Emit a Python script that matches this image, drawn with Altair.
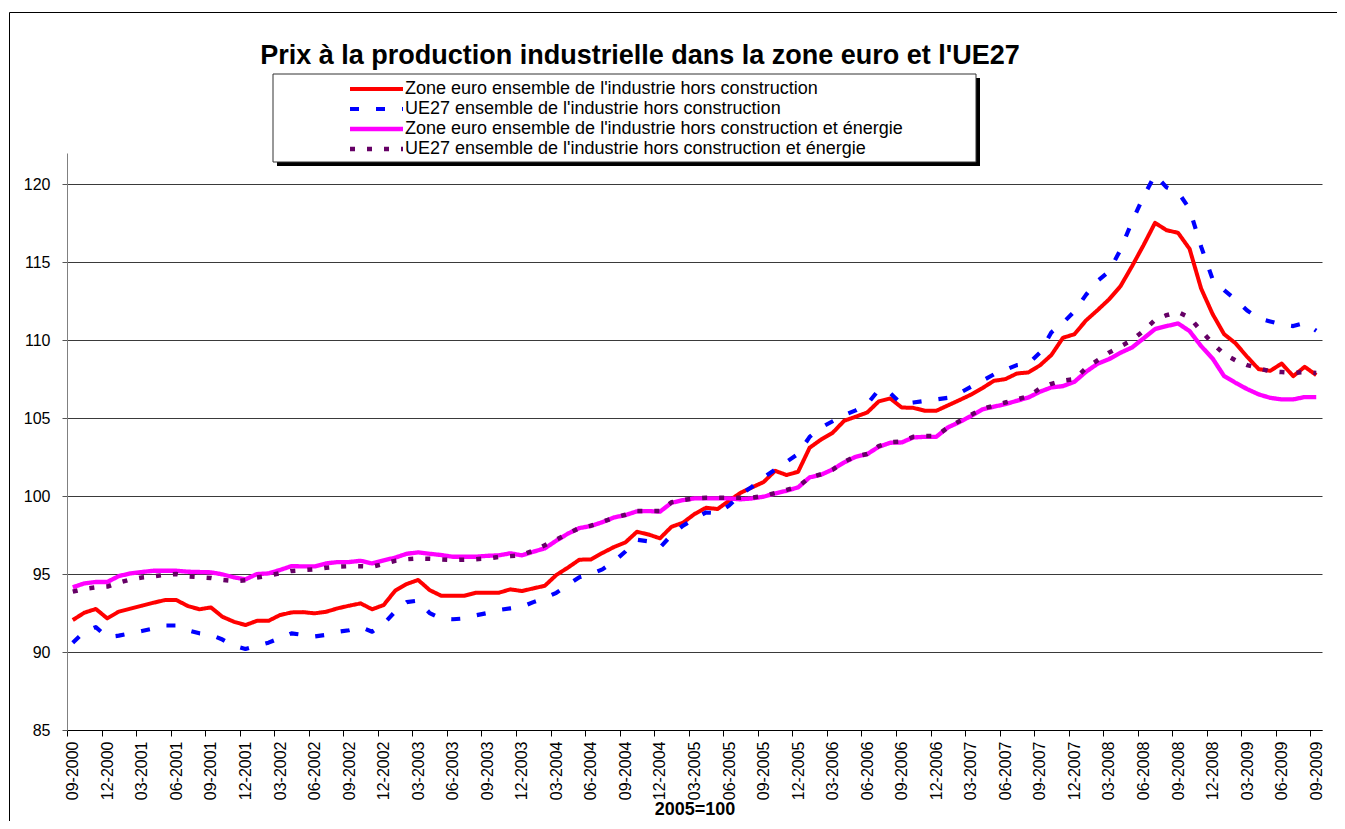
import altair as alt
import pandas as pd

FONT = "Liberation Sans, Arial, sans-serif"

# ---- categories (months 09-2000 ... 09-2009) ----
months = [p.strftime("%m-%Y") for p in pd.period_range("2000-09", "2009-09", freq="M")]

title_text = "Prix à la production industrielle dans la zone euro et l'UE27"
x_title = "2005=100"

series_names = [
    "Zone euro ensemble de l'industrie hors construction",
    "UE27 ensemble de l'industrie hors construction",
    "Zone euro ensemble de l'industrie hors construction et énergie",
    "UE27 ensemble de l'industrie hors construction et énergie",
]

zone_euro_total = [
    92.05, 92.52, 92.76, 92.16, 92.59, 92.78, 92.97, 93.16, 93.33, 93.33,
    92.95, 92.74, 92.86, 92.26, 91.94, 91.73, 92.00, 92.00, 92.37, 92.54,
    92.56, 92.48, 92.58, 92.80, 92.97, 93.12, 92.74, 93.01, 93.93, 94.36,
    94.62, 93.97, 93.61, 93.61, 93.61, 93.80, 93.80, 93.80, 94.02, 93.91,
    94.08, 94.25, 94.94, 95.41, 95.92, 95.94, 96.35, 96.73, 97.03, 97.71,
    97.54, 97.29, 98.03, 98.29, 98.85, 99.25, 99.17, 99.70, 100.21, 100.56,
    100.90, 101.62, 101.35, 101.56, 103.10, 103.63, 104.06, 104.83, 105.09, 105.36,
    106.07, 106.26, 105.68, 105.66, 105.47, 105.47, 105.81, 106.15, 106.50, 106.92,
    107.39, 107.50, 107.86, 107.93, 108.38, 109.05, 110.15, 110.38, 111.26, 111.92,
    112.61, 113.46, 114.74, 116.09, 117.52, 117.05, 116.88, 115.85, 113.31, 111.67,
    110.38, 109.79, 108.93, 108.14, 108.03, 108.50, 107.69, 108.29, 107.76,
]

ue27_total = [
    90.6, 91.3, 91.6, 90.95, 91.05, 91.2, 91.35, 91.5, 91.7, 91.7,
    91.4, 91.2, 91.1, 90.8, 90.4, 90.2, 90.4, 90.6, 90.9, 91.2,
    91.1, 91.0, 91.1, 91.3, 91.4, 91.6, 91.3, 91.8, 92.6, 93.2,
    93.3, 92.5, 92.15, 92.1, 92.15, 92.35, 92.5, 92.7, 92.8, 92.9,
    93.2, 93.45, 93.8, 94.3, 94.8, 95.0, 95.3, 95.8, 96.45, 97.2,
    97.1, 96.7, 97.5, 98.1, 98.55, 98.95, 98.9, 99.4, 100.1, 100.6,
    101.2, 101.7, 102.2, 102.7, 103.8, 104.4, 104.8, 105.2, 105.5, 105.9,
    106.8, 106.6, 105.9, 106.0, 106.1, 106.2, 106.3, 106.6, 107.0, 107.4,
    107.8, 108.1, 108.4, 108.5, 109.2, 110.5, 111.1, 111.85, 112.9, 113.8,
    114.4, 115.8, 117.6, 119.2, 120.6, 119.8, 119.5, 118.4, 116.0, 113.9,
    113.2, 112.6, 111.9, 111.4, 111.2, 111.0, 110.9, 111.1, 110.6,
]

zone_euro_hors_energie = [
    94.15, 94.40, 94.49, 94.49, 94.87, 95.04, 95.13, 95.21, 95.21, 95.21,
    95.15, 95.13, 95.11, 94.98, 94.79, 94.66, 95.00, 95.04, 95.26, 95.51,
    95.49, 95.49, 95.68, 95.77, 95.77, 95.85, 95.68, 95.88, 96.05, 96.30,
    96.39, 96.30, 96.22, 96.11, 96.11, 96.11, 96.17, 96.20, 96.33, 96.20,
    96.43, 96.65, 97.14, 97.59, 97.95, 98.08, 98.33, 98.63, 98.78, 99.02,
    99.04, 99.00, 99.57, 99.74, 99.85, 99.85, 99.85, 99.85, 99.79, 99.85,
    99.96, 100.17, 100.34, 100.56, 101.20, 101.37, 101.71, 102.16, 102.52, 102.69,
    103.16, 103.42, 103.44, 103.76, 103.80, 103.80, 104.40, 104.74, 105.13, 105.56,
    105.73, 105.90, 106.11, 106.32, 106.69, 106.97, 107.05, 107.33, 107.97, 108.48,
    108.78, 109.19, 109.53, 110.11, 110.71, 110.90, 111.07, 110.58, 109.62, 108.82,
    107.69, 107.26, 106.86, 106.52, 106.30, 106.20, 106.20, 106.35, 106.35,
]

ue27_hors_energie = [
    93.87, 94.05, 94.15, 94.20, 94.45, 94.65, 94.78, 94.85, 94.95, 95.00,
    94.85, 94.80, 94.75, 94.62, 94.55, 94.60, 94.78, 94.90, 95.05, 95.20,
    95.25, 95.30, 95.40, 95.47, 95.50, 95.50, 95.47, 95.65, 95.85, 95.95,
    96.00, 95.98, 95.94, 95.90, 95.92, 95.95, 96.00, 96.10, 96.15, 96.22,
    96.50, 96.85, 97.20, 97.60, 97.95, 98.10, 98.35, 98.60, 98.80, 99.05,
    99.05, 99.05, 99.60, 99.75, 99.85, 99.90, 99.90, 99.90, 99.90, 99.90,
    100.00, 100.20, 100.40, 100.60, 101.20, 101.40, 101.70, 102.20, 102.55, 102.70,
    103.20, 103.45, 103.50, 103.80, 103.85, 103.85, 104.40, 104.80, 105.20, 105.60,
    105.80, 106.00, 106.20, 106.40, 106.90, 107.20, 107.40, 107.50, 108.20, 108.70,
    109.20, 109.60, 110.00, 110.60, 111.30, 111.60, 111.80, 111.45, 110.60, 109.80,
    109.10, 108.70, 108.40, 108.20, 108.00, 107.95, 107.90, 107.95, 107.90,
]

series_values = [zone_euro_total, ue27_total, zone_euro_hors_energie, ue27_hors_energie]
series_colors = ["#FF0000", "#0000FF", "#FF00FF", "#660066"]
series_dashes = [[1, 0], [9, 17], [1, 0], [5, 12]]
series_widths = [4, 4.5, 2.5, 3]

y_ticks = [85, 90, 95, 100, 105, 110, 115, 120]

# ---- long table ----
rows = []
for name, vals in zip(series_names, series_values):
    for i, v in enumerate(vals):
        rows.append({"idx": i, "mois": months[i], "serie": name, "valeur": v})
df = pd.DataFrame(rows)

n = len(months)
x_scale = alt.Scale(domain=[-0.5, n - 0.5], nice=False, zero=False)
y_scale = alt.Scale(domain=[85, 122], nice=False, zero=False)

label_expr = "[" + ",".join("'%s'" % m for m in months) + "][datum.value]"

x_label_axis = alt.Axis(
    values=list(range(0, n, 3)), labelExpr=label_expr, labelAngle=-90,
    labelFont=FONT, labelFontSize=16, labelColor="black", labelPadding=11,
    labelOverlap=False, labelFlush=False, ticks=False, grid=False,
    domainColor="black", domainWidth=1, orient="bottom",
    title=x_title, titleFont=FONT, titleFontSize=18, titleFontWeight="bold",
    titleColor="black", titlePadding=1,
)
x_tick_axis = alt.Axis(
    values=[i - 0.5 for i in range(0, n + 1, 3)], labels=False, ticks=True,
    tickSize=6, tickColor="black", tickWidth=1, domain=False, grid=False,
    orient="bottom", title=None,
)
y_axis = alt.Axis(
    values=y_ticks, labelFont=FONT, labelFontSize=16, labelColor="black",
    labelPadding=12, labelFlush=False, tickSize=5, tickColor="#555",
    grid=True, gridColor="#3a3a3a", gridWidth=1, domainColor="#808080",
    domainWidth=1, title=None,
)

# long horizontal legend line (path is scaled by sqrt(size)/2 -> 53px long)
legend = alt.Legend(
    title=None, orient="none", legendX=300.5, legendY=-73, direction="vertical",
    symbolType="M-6,0H6", symbolSize=78, symbolOffset=0,
    labelFont=FONT, labelFontSize=18, labelColor="black", labelOffset=19.5,
    labelLimit=1000, rowPadding=2, padding=0,
)

lines = alt.Chart(df).mark_line(strokeJoin="round", clip=False).encode(
    x=alt.X("idx:Q", scale=x_scale, axis=x_label_axis),
    y=alt.Y("valeur:Q", scale=y_scale, axis=y_axis),
    color=alt.Color("serie:N", scale=alt.Scale(domain=series_names, range=series_colors),
                    sort=series_names, legend=legend),
    strokeDash=alt.StrokeDash("serie:N", scale=alt.Scale(domain=series_names, range=series_dashes),
                              sort=series_names, legend=legend),
    strokeWidth=alt.StrokeWidth("serie:N", scale=alt.Scale(domain=series_names, range=series_widths),
                                sort=series_names, legend=legend),
)

tick_layer = alt.Chart(df).mark_line(opacity=0).encode(
    x=alt.X("idx:Q", scale=x_scale, axis=x_tick_axis),
    y=alt.Y("valeur:Q", scale=y_scale, axis=y_axis),
    detail="serie:N",
)

one = pd.DataFrame({"t": [title_text]})
frame_top = alt.Chart(one).mark_rule(color="black", strokeWidth=1).encode(
    x=alt.value(-57.5), x2=alt.value(1400), y=alt.value(-140.5)
)
frame_left = alt.Chart(one).mark_rule(color="black", strokeWidth=1).encode(
    x=alt.value(-57.5), y=alt.value(-140.5), y2=alt.value(800)
)
shadow = alt.Chart(one).mark_rect(fill="black").encode(
    x=alt.value(210), x2=alt.value(913), y=alt.value(-75), y2=alt.value(13)
)
box = alt.Chart(one).mark_rect(fill="white", stroke="#333", strokeWidth=1).encode(
    x=alt.value(206), x2=alt.value(909), y=alt.value(-79), y2=alt.value(9)
)
title = alt.Chart(one).mark_text(font=FONT, fontSize=27, fontWeight="bold", color="black",
                                 align="center", baseline="middle").encode(
    x=alt.value(573), y=alt.value(-97), text="t:N"
)

chart = alt.layer(frame_top, frame_left, shadow, box, title, tick_layer, lines).resolve_axis(
    x="independent"
).properties(
    width=1255, height=577,
    autosize=alt.AutoSizeParams(type="none"),
    padding={"left": 59, "top": 145, "right": 15, "bottom": 91},
).configure(background="white").configure_view(stroke=None)

chart.save("out.html", embed_options={"renderer": "svg", "actions": False})
